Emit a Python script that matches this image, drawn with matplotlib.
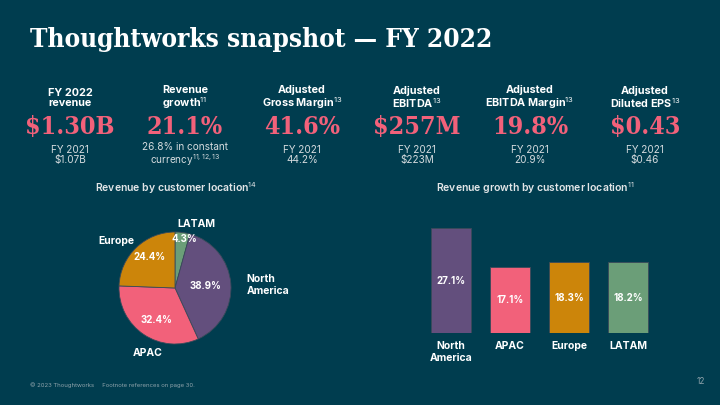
import matplotlib
matplotlib.use("Agg")
import matplotlib.pyplot as plt
import numpy as np

# ---------------- data ----------------
kpi_headers = ["FY 2022\nrevenue", "Revenue\ngrowth$^{11}$", "Adjusted\nGross Margin$^{13}$",
               "Adjusted\nEBITDA$^{13}$", "Adjusted\nEBITDA Margin$^{13}$", "Adjusted\nDiluted EPS$^{13}$"]
kpi_values = ["$1.30B", "21.1%", "41.6%", "$257M", "19.8%", "$0.43"]
kpi_subs = ["FY 2021\n$1.07B", "26.8% in constant\ncurrency$^{11,12,13}$", "FY 2021\n44.2%",
            "FY 2021\n$223M", "FY 2021\n20.9%", "FY 2021\n$0.46"]

pie_labels = ["LATAM", "North\nAmerica", "APAC", "Europe"]
pie_shares = [4.3, 38.9, 32.4, 24.4]

bar_labels = ["North\nAmerica", "APAC", "Europe", "LATAM"]
bar_growth = [27.1, 17.1, 18.3, 18.2]

# ---------------- style ----------------
BG = "#003d4f"
PINK = "#f2617a"
PURPLE = "#634f7d"
ORANGE = "#cc850a"
GREEN = "#6b9e78"
pie_colors = [GREEN, PURPLE, PINK, ORANGE]
bar_colors = [PURPLE, PINK, ORANGE, GREEN]

plt.rcParams["font.family"] = ["Inter", "DejaVu Sans"]
plt.rcParams["mathtext.fontset"] = "custom"
plt.rcParams["mathtext.rm"] = "Inter"
plt.rcParams["mathtext.it"] = "Inter"
plt.rcParams["mathtext.bf"] = "Inter:bold"

W, H = 720, 405
fig = plt.figure(figsize=(7.2, 4.05), dpi=100, facecolor=BG)


def fx(x):
    return x / W


def fy(y):
    return 1 - y / H


# title
fig.text(fx(30), fy(39), "Thoughtworks snapshot — FY 2022", family="DejaVu Serif",
         fontstretch="condensed", weight="bold", fontsize=18.8, color="white", va="center", ha="left")

# KPI row
centers = [70, 185, 302, 417, 530, 645]
for cx, h, v, s in zip(centers, kpi_headers, kpi_values, kpi_subs):
    fig.text(fx(cx), fy(98), h, ha="center", va="center", fontsize=7.8, weight="bold",
             color="white", linespacing=1.05)
    fig.text(fx(cx), fy(127), v.replace("$", r"\$"), ha="center", va="center", fontsize=18,
             family="DejaVu Serif", fontstretch="condensed", weight="bold", color=PINK)
    fig.text(fx(cx), fy(155), s.replace("$1", r"\$1").replace("$2", r"\$2").replace("$0", r"\$0"),
             ha="center", va="center", fontsize=7.2, color="#d5dbde", linespacing=1.1)

# section titles
fig.text(fx(176), fy(188), "Revenue by customer location$^{14}$", ha="center", va="center",
         fontsize=7.5, weight="semibold", color="#e3e6e8")
fig.text(fx(535), fy(188), "Revenue growth by customer location$^{11}$", ha="center", va="center",
         fontsize=7.5, weight="semibold", color="#e3e6e8")

# ---------------- pie ----------------
pcx, pcy, pr = 175, 288, 56
span = 2.0  # axes covers radius units -2..2
ax_p = fig.add_axes([fx(pcx - pr * span), fy(pcy + pr * span), 2 * pr * span / W, 2 * pr * span / H])
wedges, _ = ax_p.pie(pie_shares, colors=pie_colors, startangle=90, counterclock=False,
                     wedgeprops=dict(linewidth=0.6, edgecolor="#3a4a5a"))
ax_p.set_xlim(-span, span)
ax_p.set_ylim(-span, span)
ax_p.set_aspect("equal")
ax_p.axis("off")

pct_dist = [0.89, 0.54, 0.66, 0.72]
pct_shift = [-3, 0, 3, -4]
lab_pos = [(0.39, 1.14, "center"), (1.28, 0.05, "left"), (-0.48, -1.16, "center"), (-1.05, 0.84, "center")]
for w, val, d, sh, lab, (lx, ly, ha) in zip(wedges, pie_shares, pct_dist, pct_shift, pie_labels, lab_pos):
    mid = np.deg2rad((w.theta1 + w.theta2) / 2 + sh)
    ax_p.text(d * np.cos(mid), d * np.sin(mid), f"{val:.1f}%", ha="center", va="center",
              fontsize=7, weight="bold", color="white")
    ax_p.text(lx, ly, lab, ha=ha, va="center", fontsize=7.5, weight="bold", color="white",
              linespacing=1.2)

# ---------------- bars ----------------
unit = 59.0
x0 = 451
left_u, right_u = -0.6, 3.6
y_bottom = 333
px_per = 105 / 27.1
ymax = 30
ax_b = fig.add_axes([fx(x0 + left_u * unit), fy(y_bottom), (right_u - left_u) * unit / W,
                     ymax * px_per / H])
ax_b.set_facecolor("none")
xs = np.arange(len(bar_growth))
ax_b.bar(xs, bar_growth, width=40 / unit, color=bar_colors, edgecolor="#3a4a5a", linewidth=0.6)
for x, v in zip(xs, bar_growth):
    ax_b.text(x, v / 2, f"{v:.1f}%", ha="center", va="center", fontsize=7, weight="bold", color="white")
ax_b.set_xlim(left_u, right_u)
ax_b.set_ylim(0, ymax)
ax_b.set_xticks(xs)
ax_b.set_xticklabels(bar_labels, fontsize=7.5, weight="bold", color="white", linespacing=1.2)
ax_b.tick_params(axis="x", length=0, pad=6)
ax_b.set_yticks([])
for s in ax_b.spines.values():
    s.set_visible(False)

# footer
fig.text(fx(30), fy(385), "© 2023 Thoughtworks     Footnote references on page 30.", fontsize=4.3,
         color="#8fa3ab", va="center", ha="left")
fig.text(fx(705), fy(382), "12", fontsize=6, color="#8fa3ab", va="center", ha="right")

fig.savefig("out.png", dpi=100, facecolor=BG)
